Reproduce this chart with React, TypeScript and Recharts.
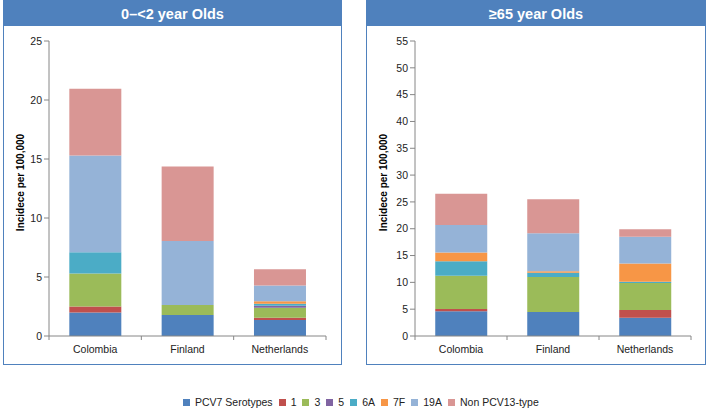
import React from 'react'
import { BarChart, Bar, XAxis, YAxis, Label } from 'recharts'

const COUNTRIES = ['Colombia', 'Finland', 'Netherlands']
const SEROTYPES = ['PCV7 Serotypes', '1', '3', '5', '6A', '7F', '19A', 'Non PCV13-type']
const COLORS = ['#4F81BD', '#C0504D', '#9BBB59', '#8064A2', '#4BACC6', '#F79646', '#95B3D7', '#D99694']

// values per country, in SEROTYPES order
const infantColombia = [2.0, 0.5, 2.8, 0, 1.8, 0, 8.2, 5.65]
const infantFinland = [1.78, 0, 0.85, 0, 0, 0, 5.43, 6.3]
const infantNetherlands = [1.36, 0.19, 0.85, 0.17, 0.17, 0.2, 1.33, 1.39]

const elderlyColombia = [4.6, 0.45, 6.2, 0, 2.7, 1.6, 5.15, 5.8]
const elderlyFinland = [4.48, 0, 6.54, 0, 0.75, 0.31, 7.1, 6.3]
const elderlyNetherlands = [3.42, 1.44, 5.04, 0, 0.2, 3.41, 5.0, 1.4]

const INFANT_TICKS = [0, 5, 10, 15, 20, 25]
const ELDERLY_TICKS = [0, 5, 10, 15, 20, 25, 30, 35, 40, 45, 50, 55]

const FONT = '"Liberation Sans", Arial, sans-serif'
const AXIS = '#868686'
const BORDER = '#4F81BD'

function buildRows(values: number[][]) {
  return COUNTRIES.map((country, i) => {
    const row: Record<string, string | number> = { country }
    SEROTYPES.forEach((s, j) => {
      row[s] = values[i][j]
    })
    return row
  })
}

const infantData = buildRows([infantColombia, infantFinland, infantNetherlands])
const elderlyData = buildRows([elderlyColombia, elderlyFinland, elderlyNetherlands])

interface PanelProps {
  title: string
  data: Record<string, string | number>[]
  ticks: number[]
  left: number
  width: number
  height: number
  boxLeft: number
  boxWidth: number
  axisWidth: number
  rightGap: number
  labelX: number
}

function Panel({ title, data, ticks, left, width, height, boxLeft, boxWidth, axisWidth, rightGap, labelX }: PanelProps) {
  const top = 41
  const xAxisHeight = 29
  const plotBottom = height - xAxisHeight
  const band = (width - axisWidth - rightGap) / COUNTRIES.length

  const renderTick = (props: any) => {
    const { x, payload, index } = props
    return (
      <g>
        <line x1={x - band / 2} x2={x - band / 2} y1={plotBottom} y2={plotBottom + 4} stroke={AXIS} />
        {index === COUNTRIES.length - 1 && (
          <line x1={x + band / 2} x2={x + band / 2} y1={plotBottom} y2={plotBottom + 4} stroke={AXIS} />
        )}
        <text x={x} y={plotBottom + 17} textAnchor="middle" fontSize={10.5} fill="#222" fontFamily={FONT}>
          {payload.value}
        </text>
      </g>
    )
  }

  return (
    <div style={{ position: 'absolute', left, top: 0, width, height }}>
      <div
        style={{
          position: 'absolute',
          left: boxLeft,
          top: 0,
          width: boxWidth,
          height: height,
          boxSizing: 'border-box',
          border: `1px solid ${BORDER}`,
        }}
      />
      <div
        style={{
          position: 'absolute',
          left: boxLeft,
          top: 0,
          width: boxWidth,
          height: 26,
          background: BORDER,
          color: '#fff',
          fontFamily: FONT,
          fontWeight: 'bold',
          fontSize: 14.5,
          lineHeight: '28px',
          textAlign: 'center',
        }}
      >
        {title}
      </div>
      <div style={{ position: 'absolute', left: 0, top: 0 }}>
        <BarChart
          width={width}
          height={height}
          data={data}
          margin={{ top, right: rightGap, bottom: 0, left: 0 }}
          barCategoryGap="22%"
        >
          <XAxis
            dataKey="country"
            height={xAxisHeight}
            axisLine={{ stroke: AXIS }}
            tickLine={false}
            tick={renderTick}
            interval={0}
          />
          <YAxis
            width={axisWidth}
            domain={[ticks[0], ticks[ticks.length - 1]]}
            ticks={ticks}
            interval={0}
            tickSize={5}
            axisLine={{ stroke: AXIS }}
            tickLine={{ stroke: AXIS }}
            tick={{ fontSize: 10.5, fill: '#222', fontFamily: FONT }}
          >
            <Label
              content={({ viewBox }: any) => {
                const cx = viewBox.x + labelX
                const cy = viewBox.y + viewBox.height / 2 - 6
                return (
                  <text
                    x={cx}
                    y={cy}
                    transform={`rotate(-90, ${cx}, ${cy})`}
                    textAnchor="middle"
                    dominantBaseline="central"
                    fontSize={10}
                    fontWeight="bold"
                    fontFamily={FONT}
                    fill="#000"
                  >
                    Incidece per 100,000
                  </text>
                )
              }}
            />
          </YAxis>
          {SEROTYPES.map((s, i) => (
            <Bar key={s} dataKey={s} stackId="a" fill={COLORS[i]} isAnimationActive={false} />
          ))}
        </BarChart>
      </div>
    </div>
  )
}

export default function App() {
  return (
    <div
      style={{
        position: 'absolute',
        left: 0,
        top: 0,
        width: 708,
        height: 410,
        background: '#fff',
        overflow: 'hidden',
        fontFamily: FONT,
      }}
    >
      <Panel
        title="0–<2 year Olds"
        data={infantData}
        ticks={INFANT_TICKS}
        left={0}
        width={342}
        height={365}
        boxLeft={3}
        boxWidth={339}
        axisWidth={49}
        rightGap={16}
        labelX={20}
      />
      <Panel
        title="≥65 year Olds"
        data={elderlyData}
        ticks={ELDERLY_TICKS}
        left={354}
        width={352}
        height={365}
        boxLeft={12}
        boxWidth={340}
        axisWidth={61}
        rightGap={15}
        labelX={29}
      />
      <div
        style={{
          position: 'absolute',
          left: 183,
          top: 396,
          display: 'flex',
          alignItems: 'center',
          fontSize: 10.5,
          color: '#222',
          whiteSpace: 'nowrap',
        }}
      >
        {SEROTYPES.map((s, i) => (
          <div key={s} style={{ display: 'flex', alignItems: 'center', marginRight: 6 }}>
            <span style={{ display: 'inline-block', width: 7, height: 7, background: COLORS[i], marginRight: 5 }} />
            <span>{s}</span>
          </div>
        ))}
      </div>
    </div>
  )
}
